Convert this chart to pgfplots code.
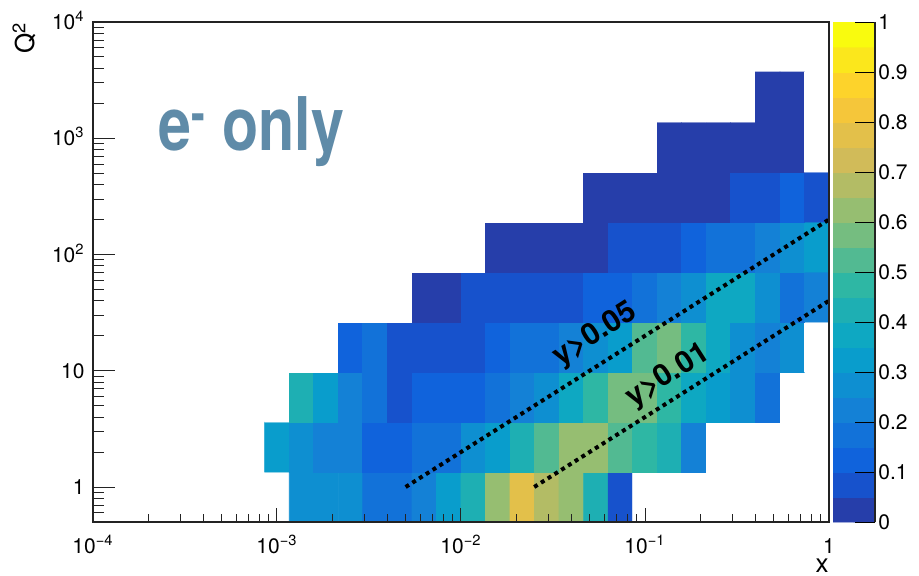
\documentclass[border=0pt]{standalone}
\usepackage{pgfplots}
\pgfplotsset{compat=1.18}
\usepackage{fontspec}
\setmainfont{TeX Gyre Heros}
\newfontfamily\condfont[FakeStretch=0.8]{TeX Gyre Heros}
\definecolor{eonlycol}{RGB}{95,139,168}
\definecolor{framecol}{RGB}{35,35,35}
\newcommand\tickfont{\fontsize{10.5}{12}\selectfont}
\pgfplotsset{colormap={rootbird}{
rgb=(1,1,1)
rgb=(0.149,0.244,0.665)
rgb=(0.089,0.321,0.801)
rgb=(0.063,0.389,0.862)
rgb=(0.071,0.446,0.851)
rgb=(0.078,0.504,0.839)
rgb=(0.056,0.559,0.820)
rgb=(0.034,0.614,0.801)
rgb=(0.055,0.657,0.762)
rgb=(0.117,0.687,0.702)
rgb=(0.180,0.718,0.643)
rgb=(0.320,0.730,0.572)
rgb=(0.460,0.743,0.502)
rgb=(0.588,0.746,0.443)
rgb=(0.703,0.739,0.396)
rgb=(0.819,0.733,0.350)
rgb=(0.889,0.754,0.289)
rgb=(0.960,0.776,0.227)
rgb=(0.992,0.826,0.168)
rgb=(0.984,0.904,0.111)
rgb=(0.976,0.983,0.054)
}}
\begin{document}
\begin{tikzpicture}
\useasboundingbox (0,0) rectangle (459.5pt,287.5pt);
% ---------------- main histogram ----------------
\begin{axis}[
  at={(46.5pt,26.5pt)}, anchor=south west,
  width=368pt, height=250pt, scale only axis,
  xmode=log, ymode=log,
  xmin=1e-4, xmax=1, ymin=0.5, ymax=1e4,
  axis on top,
  point meta min=-0.025, point meta max=0.975,
  xtick={1e-4,1e-3,1e-2,1e-1,1},
  xticklabels={10\textsuperscript{−4},10\textsuperscript{−3},10\textsuperscript{−2},10\textsuperscript{−1},1},
  minor xtick={2e-4,3e-4,4e-4,5e-4,6e-4,7e-4,8e-4,9e-4,
               2e-3,3e-3,4e-3,5e-3,6e-3,7e-3,8e-3,9e-3,
               0.02,0.03,0.04,0.05,0.06,0.07,0.08,0.09,
               0.2,0.3,0.4,0.5,0.6,0.7,0.8,0.9},
  ytick=\empty, minor ytick={},
  tick pos=left, tick align=inside,
  major tick length=7pt, minor tick length=4pt,
  tick style={framecol, line width=0.5pt},
  axis line style={framecol, line width=0.6pt},
  xticklabel style={font=\tickfont, anchor=base, inner sep=0pt, yshift=-15.5pt},
  xlabel={x},
  xlabel style={at={(axis description cs:1,-0.1)}, anchor=base east, inner sep=0pt, font=\fontsize{13}{15}\selectfont},
]
\addplot[matrix plot*, mesh/cols=23, point meta=explicit, shader=flat corner] table[meta=c] {
x y c
0.001 0.82038 -0.025
0.00135936 0.82038 0.275
0.00184785 0.82038 0.275
0.00251189 0.82038 0.275
0.00341455 0.82038 0.175
0.00464159 0.82038 0.175
0.00630957 0.82038 0.225
0.00857696 0.82038 0.325
0.0116591 0.82038 0.425
0.0158489 0.82038 0.625
0.0215443 0.82038 0.775
0.0292864 0.82038 0.675
0.0398107 0.82038 0.625
0.054117 0.82038 0.425
0.0735642 0.82038 0.075
0.1 0.82038 -0.025
0.135936 0.82038 -0.025
0.184785 0.82038 -0.025
0.251189 0.82038 -0.025
0.341455 0.82038 -0.025
0.464159 0.82038 -0.025
0.630957 0.82038 -0.025
0.857696 0.82038 -0.025
0.001 2.20857 0.325
0.00135936 2.20857 0.275
0.00184785 2.20857 0.225
0.00251189 2.20857 0.225
0.00341455 2.20857 0.125
0.00464159 2.20857 0.125
0.00630957 2.20857 0.175
0.00857696 2.20857 0.175
0.0116591 2.20857 0.275
0.0158489 2.20857 0.325
0.0215443 2.20857 0.425
0.0292864 2.20857 0.525
0.0398107 2.20857 0.625
0.054117 2.20857 0.625
0.0735642 2.20857 0.525
0.1 2.20857 0.475
0.135936 2.20857 0.425
0.184785 2.20857 0.225
0.251189 2.20857 -0.025
0.341455 2.20857 -0.025
0.464159 2.20857 -0.025
0.630957 2.20857 -0.025
0.857696 2.20857 -0.025
0.001 5.94573 -0.025
0.00135936 5.94573 0.425
0.00184785 5.94573 0.325
0.00251189 5.94573 0.225
0.00341455 5.94573 0.175
0.00464159 5.94573 0.075
0.00630957 5.94573 0.125
0.00857696 5.94573 0.125
0.0116591 5.94573 0.125
0.0158489 5.94573 0.175
0.0215443 5.94573 0.225
0.0292864 5.94573 0.275
0.0398107 5.94573 0.375
0.054117 5.94573 0.475
0.0735642 5.94573 0.575
0.1 5.94573 0.575
0.135936 5.94573 0.475
0.184785 5.94573 0.375
0.251189 5.94573 0.325
0.341455 5.94573 0.275
0.464159 5.94573 0.175
0.630957 5.94573 -0.025
0.857696 5.94573 -0.025
0.001 16.0066 -0.025
0.00135936 16.0066 -0.025
0.00184785 16.0066 -0.025
0.00251189 16.0066 0.125
0.00341455 16.0066 0.175
0.00464159 16.0066 0.075
0.00630957 16.0066 0.075
0.00857696 16.0066 0.075
0.0116591 16.0066 0.075
0.0158489 16.0066 0.125
0.0215443 16.0066 0.175
0.0292864 16.0066 0.175
0.0398107 16.0066 0.225
0.054117 16.0066 0.275
0.0735642 16.0066 0.325
0.1 16.0066 0.525
0.135936 16.0066 0.575
0.184785 16.0066 0.475
0.251189 16.0066 0.375
0.341455 16.0066 0.275
0.464159 16.0066 0.225
0.630957 16.0066 0.275
0.857696 16.0066 -0.025
0.001 43.0917 -0.025
0.00135936 43.0917 -0.025
0.00184785 43.0917 -0.025
0.00251189 43.0917 -0.025
0.00341455 43.0917 -0.025
0.00464159 43.0917 -0.025
0.00630957 43.0917 0.025
0.00857696 43.0917 0.025
0.0116591 43.0917 0.075
0.0158489 43.0917 0.075
0.0215443 43.0917 0.075
0.0292864 43.0917 0.075
0.0398107 43.0917 0.075
0.054117 43.0917 0.125
0.0735642 43.0917 0.125
0.1 43.0917 0.175
0.135936 43.0917 0.225
0.184785 43.0917 0.275
0.251189 43.0917 0.375
0.341455 43.0917 0.375
0.464159 43.0917 0.275
0.630957 43.0917 0.175
0.857696 43.0917 0.225
0.001 116.008 -0.025
0.00135936 116.008 -0.025
0.00184785 116.008 -0.025
0.00251189 116.008 -0.025
0.00341455 116.008 -0.025
0.00464159 116.008 -0.025
0.00630957 116.008 -0.025
0.00857696 116.008 -0.025
0.0116591 116.008 -0.025
0.0158489 116.008 0.025
0.0215443 116.008 0.025
0.0292864 116.008 0.025
0.0398107 116.008 0.025
0.054117 116.008 0.025
0.0735642 116.008 0.075
0.1 116.008 0.075
0.135936 116.008 0.075
0.184785 116.008 0.125
0.251189 116.008 0.175
0.341455 116.008 0.175
0.464159 116.008 0.225
0.630957 116.008 0.275
0.857696 116.008 0.325
0.001 312.310 -0.025
0.00135936 312.310 -0.025
0.00184785 312.310 -0.025
0.00251189 312.310 -0.025
0.00341455 312.310 -0.025
0.00464159 312.310 -0.025
0.00630957 312.310 -0.025
0.00857696 312.310 -0.025
0.0116591 312.310 -0.025
0.0158489 312.310 -0.025
0.0215443 312.310 -0.025
0.0292864 312.310 -0.025
0.0398107 312.310 -0.025
0.054117 312.310 0.025
0.0735642 312.310 0.025
0.1 312.310 0.025
0.135936 312.310 0.025
0.184785 312.310 0.025
0.251189 312.310 0.025
0.341455 312.310 0.075
0.464159 312.310 0.075
0.630957 312.310 0.125
0.857696 312.310 0.075
0.001 840.775 -0.025
0.00135936 840.775 -0.025
0.00184785 840.775 -0.025
0.00251189 840.775 -0.025
0.00341455 840.775 -0.025
0.00464159 840.775 -0.025
0.00630957 840.775 -0.025
0.00857696 840.775 -0.025
0.0116591 840.775 -0.025
0.0158489 840.775 -0.025
0.0215443 840.775 -0.025
0.0292864 840.775 -0.025
0.0398107 840.775 -0.025
0.054117 840.775 -0.025
0.0735642 840.775 -0.025
0.1 840.775 -0.025
0.135936 840.775 0.025
0.184785 840.775 0.025
0.251189 840.775 0.025
0.341455 840.775 0.025
0.464159 840.775 0.025
0.630957 840.775 0.025
0.857696 840.775 -0.025
0.001 2263.46 -0.025
0.00135936 2263.46 -0.025
0.00184785 2263.46 -0.025
0.00251189 2263.46 -0.025
0.00341455 2263.46 -0.025
0.00464159 2263.46 -0.025
0.00630957 2263.46 -0.025
0.00857696 2263.46 -0.025
0.0116591 2263.46 -0.025
0.0158489 2263.46 -0.025
0.0215443 2263.46 -0.025
0.0292864 2263.46 -0.025
0.0398107 2263.46 -0.025
0.054117 2263.46 -0.025
0.0735642 2263.46 -0.025
0.1 2263.46 -0.025
0.135936 2263.46 -0.025
0.184785 2263.46 -0.025
0.251189 2263.46 -0.025
0.341455 2263.46 -0.025
0.464159 2263.46 0.025
0.630957 2263.46 0.025
0.857696 2263.46 -0.025
};
\addplot[black, line width=2pt, dash pattern=on 2pt off 2pt] coordinates {(0.005,1) (1,200)};
\addplot[black, line width=2pt, dash pattern=on 2pt off 2pt] coordinates {(0.025,1) (1,40)};
\node[rotate=32.5, inner sep=0pt, font=\bfseries\fontsize{15}{17}\selectfont] at (axis cs:0.054,20.3) {y>0.05};
\node[rotate=32.5, inner sep=0pt, font=\bfseries\fontsize{15}{17}\selectfont] at (axis cs:0.1334,9.0) {y>0.01};
\end{axis}
% ---------------- y ticks overlay ----------------
\begin{axis}[
  at={(46.5pt,26.5pt)}, anchor=south west,
  width=368pt, height=250pt, scale only axis,
  xmode=log, ymode=log,
  xmin=1e-4, xmax=1, ymin=0.5, ymax=1e4,
  hide x axis,
  ytick={1,10,100,1000,10000},
  yticklabels={1,10,10\textsuperscript{2},10\textsuperscript{3},10\textsuperscript{4}},
  minor ytick={0.6,0.7,0.8,0.9,2,3,4,5,6,7,8,9,20,30,40,50,60,70,80,90,
               200,300,400,500,600,700,800,900,2000,3000,4000,5000,6000,7000,8000,9000},
  ytick pos=left, tick align=inside,
  major tick length=11pt, minor tick length=5.5pt,
  tick style={framecol, line width=0.5pt},
  axis line style={framecol, line width=0.6pt},
  yticklabel style={font=\tickfont, anchor=base east, inner sep=0pt, xshift=-4pt, yshift=-3.75pt},
  ylabel={Q\textsuperscript{2}},
  ylabel style={at={(axis description cs:-0.08,1)}, anchor=base east, inner sep=0pt, font=\fontsize{13}{15}\selectfont},
]
\end{axis}
% ---------------- colour bar ----------------
\begin{axis}[
  at={(416.5pt,26.5pt)}, anchor=south west,
  width=21pt, height=250pt, scale only axis,
  xmin=0, xmax=1, ymin=0, ymax=1,
  axis on top,
  point meta min=-0.025, point meta max=0.975,
  axis x line=none, axis y line=right,
  axis line style={-, framecol, line width=0.6pt},
  ytick={0,0.1,0.2,0.3,0.4,0.5,0.6,0.7,0.8,0.9,1},
  yticklabels={0,0.1,0.2,0.3,0.4,0.5,0.6,0.7,0.8,0.9,1},
  ytick pos=right, yticklabel pos=right, tick align=inside,
  major tick length=10pt,
  tick style={black, line width=0.5pt},
  yticklabel style={font=\tickfont, anchor=base west, inner sep=0pt, xshift=1.5pt, yshift=-3.75pt},
]
\addplot[matrix plot*, mesh/cols=2, point meta=explicit, shader=flat corner] table[meta=c] {
x y c
0.25 0.025 0.025
0.75 0.025 0.025
0.25 0.075 0.075
0.75 0.075 0.075
0.25 0.125 0.125
0.75 0.125 0.125
0.25 0.175 0.175
0.75 0.175 0.175
0.25 0.225 0.225
0.75 0.225 0.225
0.25 0.275 0.275
0.75 0.275 0.275
0.25 0.325 0.325
0.75 0.325 0.325
0.25 0.375 0.375
0.75 0.375 0.375
0.25 0.425 0.425
0.75 0.425 0.425
0.25 0.475 0.475
0.75 0.475 0.475
0.25 0.525 0.525
0.75 0.525 0.525
0.25 0.575 0.575
0.75 0.575 0.575
0.25 0.625 0.625
0.75 0.625 0.625
0.25 0.675 0.675
0.75 0.675 0.675
0.25 0.725 0.725
0.75 0.725 0.725
0.25 0.775 0.775
0.75 0.775 0.775
0.25 0.825 0.825
0.75 0.825 0.825
0.25 0.875 0.875
0.75 0.875 0.875
0.25 0.925 0.925
0.75 0.925 0.925
0.25 0.975 0.975
0.75 0.975 0.975
};
\end{axis}
% ---------------- label ----------------
\node[anchor=base west, inner sep=0pt, text=eonlycol, font=\condfont\bfseries\fontsize{37}{40}\selectfont] at (79pt,212.5pt) {e\textsuperscript{-} only};
\end{tikzpicture}
\end{document}
